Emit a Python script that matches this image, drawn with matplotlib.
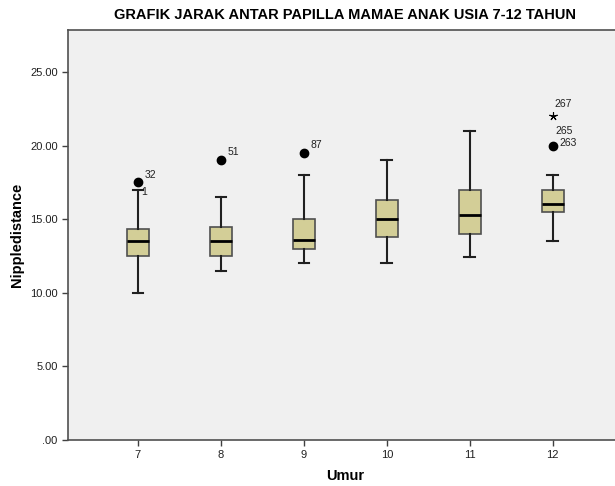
import matplotlib
matplotlib.use("Agg")
import matplotlib.pyplot as plt

plt.rcParams['font.family'] = ['Liberation Sans', 'DejaVu Sans']

ages = [7, 8, 9, 10, 11, 12]
whisker_low = [10.0, 11.5, 12.0, 12.0, 12.4, 13.5]
q1 = [12.5, 12.5, 13.0, 13.8, 14.0, 15.5]
median = [13.5, 13.5, 13.6, 15.0, 15.25, 16.0]
q3 = [14.3, 14.5, 15.0, 16.3, 17.0, 17.0]
whisker_high = [17.0, 16.5, 18.0, 19.0, 21.0, 18.0]

# outliers: (age, value, label)
outlier_age = [7, 8, 9, 12]
outlier_val = [17.5, 19.0, 19.5, 20.0]
outlier_lab = ["32", "51", "87", "263"]
extreme_age = [12]
extreme_val = [22.0]
extreme_lab = ["267"]
extra_labels = [(7, 17.0, "1"), (12, 21.0, "265")]

yticks = [0, 5, 10, 15, 20, 25]
ytick_labels = [".00", "5.00", "10.00", "15.00", "20.00", "25.00"]

fig = plt.figure(figsize=(6.15, 4.86), dpi=100)
fig.patch.set_facecolor('white')
ax = fig.add_axes([0.1106, 0.0947, 0.902, 0.8436])
ax.set_facecolor('#F0F0F0')

stats = []
for i in range(len(ages)):
    stats.append(dict(med=median[i], q1=q1[i], q3=q3[i],
                      whislo=whisker_low[i], whishi=whisker_high[i], fliers=[]))

ax.bxp(stats, positions=ages, widths=0.27, patch_artist=True, showfliers=False,
       boxprops=dict(facecolor='#D3CE97', edgecolor='#505050', linewidth=1.2),
       medianprops=dict(color='black', linewidth=2),
       whiskerprops=dict(color='#202020', linewidth=1.5),
       capprops=dict(color='#202020', linewidth=1.5),
       capwidths=0.13)

ax.plot(outlier_age, outlier_val, 'o', color='black', markersize=6)
ax.plot(extreme_age, extreme_val, marker=(5, 2, 0), linestyle='none', color='black',
        markersize=6, markeredgewidth=0.8)

for a, v, l in zip(outlier_age, outlier_val, outlier_lab):
    ax.annotate(l, (a, v), xytext=(5, 2), textcoords='offset points', fontsize=7.5,
                color='#202020', va='bottom' if l != "263" else 'center', ha='left')
for a, v, l in zip(extreme_age, extreme_val, extreme_lab):
    ax.annotate(l, (a, v), xytext=(1, 5), textcoords='offset points', fontsize=7.5,
                color='#202020', va='bottom', ha='left')
for a, v, l in extra_labels:
    ax.annotate(l, (a, v), xytext=(2, -2) if l == "1" else (2, 0),
                textcoords='offset points', fontsize=7.5,
                color='#202020', va='center', ha='left')

ax.set_xlim(6.157, 12.843)
ax.set_ylim(0, 27.85)
ax.set_xticks(ages)
ax.set_xticklabels([str(a) for a in ages], fontsize=8, color='#202020')
ax.set_yticks(yticks)
ax.set_yticklabels(ytick_labels, fontsize=8, color='#202020')
ax.tick_params(direction='out', length=4, width=1, color='#404040')

for s in ax.spines.values():
    s.set_color('#505050')
    s.set_linewidth(1.2)

ax.set_xlabel('Umur', fontsize=10.5, fontweight='bold', labelpad=6)
ax.set_ylabel('Nippledistance', fontsize=10.5, fontweight='bold', labelpad=4)
ax.set_title('GRAFIK JARAK ANTAR PAPILLA MAMAE ANAK USIA 7-12 TAHUN',
             fontsize=10.5, fontweight='bold', pad=8)

fig.savefig('out.png', dpi=100)
